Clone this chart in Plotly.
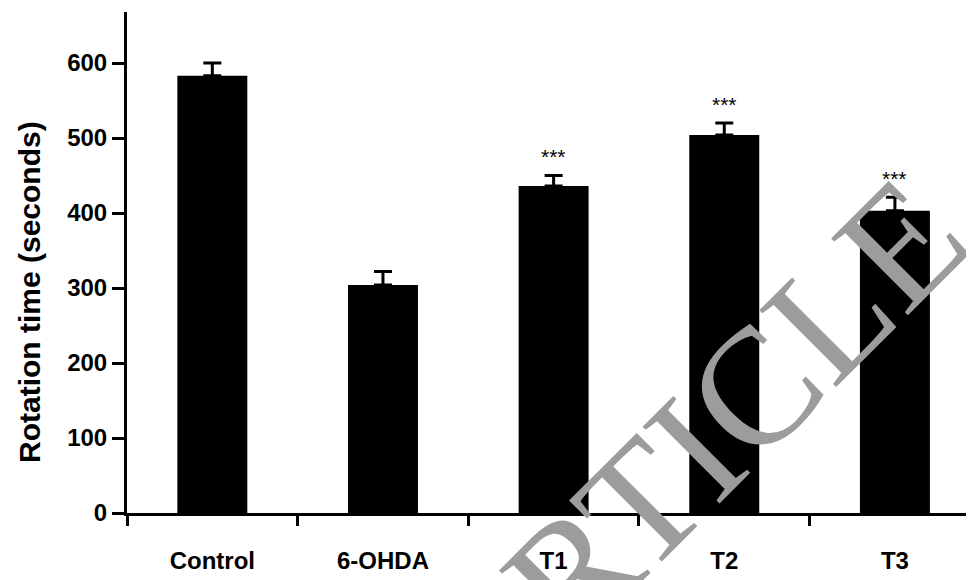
import plotly.graph_objects as go

categories = ["Control", "6-OHDA", "T1", "T2", "T3"]
means = [583, 304, 436, 504, 403]
errors = [17, 18, 14, 16, 18]
significance = ["", "", "***", "***", "***"]
y_ticks = [0, 100, 200, 300, 400, 500, 600]

# the page body has an 8px margin, so the figure is drawn offset by (8, 8)
OFF = 8
W, H = 974 - OFF, 580 - OFF
ML, MR, MT, MB = 127 - OFF, 4, 12 - OFF, 67
PW, PH = W - ML - MR, H - MT - MB

def px_to_paper(px, py):
    fx, fy = px - OFF, py - OFF
    return (fx - ML) / PW, (H - MB - fy) / PH

fig = go.Figure()
fig.add_trace(go.Bar(
    x=categories, y=means, width=0.41,
    marker=dict(color="black", line=dict(width=0)),
    error_y=dict(type="data", array=errors, arrayminus=[0]*len(errors), symmetric=False,
                 color="black", thickness=3, width=9),
    showlegend=False,
))

annotations = []
for c, m, e, s in zip(categories, means, errors, significance):
    if s:
        annotations.append(dict(x=c, y=m + e, xref="x", yref="y", text=s, showarrow=False,
                                yanchor="middle", yshift=19,
                                font=dict(family="Liberation Sans, Arial, sans-serif", size=21, color="black")))

tx, ty = px_to_paper(29, 292)
annotations.append(dict(x=tx, y=ty, xref="paper", yref="paper", text="Rotation time (seconds)",
                        showarrow=False, textangle=-90, xanchor="center", yanchor="middle",
                        font=dict(family="Liberation Sans, Arial, sans-serif", size=30, color="black", weight="bold")))

wx, wy = px_to_paper(692, 452)
annotations.append(dict(x=wx, y=wy, xref="paper", yref="paper", text="ARTICLE",
                        showarrow=False, textangle=-45, xanchor="center", yanchor="middle",
                        font=dict(family="Liberation Serif, Times New Roman, serif", size=166, color="#9c9c9c")))

fig.update_layout(
    width=W, height=H,
    margin=dict(l=ML, r=MR, t=MT, b=MB, pad=0),
    plot_bgcolor="white", paper_bgcolor="white",
    annotations=annotations,
    xaxis=dict(type="category", range=[-0.5, 4.44], showline=True, linecolor="black", linewidth=3,
               ticks="outside", tickson="boundaries", ticklen=10, tickwidth=3, tickcolor="black",
               showgrid=False, zeroline=False, ticklabelstandoff=24,
               tickfont=dict(family="Liberation Sans, Arial, sans-serif", size=24, color="black", weight="bold")),
    yaxis=dict(range=[0, 668], tickvals=y_ticks, showline=True, linecolor="black", linewidth=3,
               ticks="outside", ticklen=12, tickwidth=3, tickcolor="black",
               showgrid=False, zeroline=False, ticklabelstandoff=0,
               tickfont=dict(family="Liberation Sans, Arial, sans-serif", size=24, color="black", weight="bold")),
)

fig.write_html("out.html")
